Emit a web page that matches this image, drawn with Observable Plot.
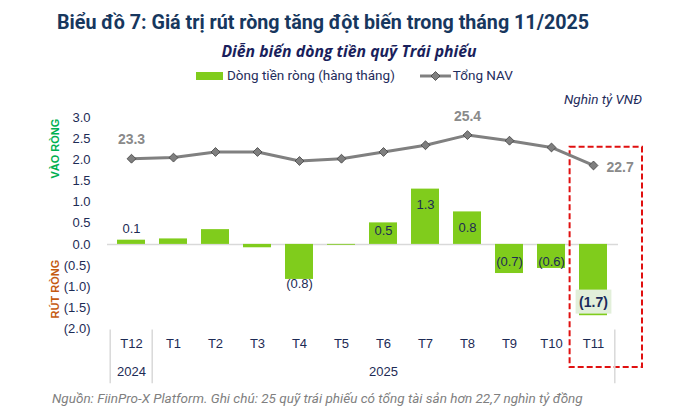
<!DOCTYPE html>
<html>
<head>
<meta charset="utf-8">
<script src="https://cdn.jsdelivr.net/npm/d3@7"></script>
<script src="https://cdn.jsdelivr.net/npm/@observablehq/plot@0.6"></script>
<style>
  body { margin: 0; background: #fff; }
  #wrap { position: relative; width: 696px; height: 412px; overflow: hidden; font-family: Roboto, "Liberation Sans", sans-serif; background:#fff; }
  .abs { position: absolute; white-space: nowrap; line-height: 1; }
  #title { left: 57px; top: 13px; font-size: 19.7px; font-weight: 700; color: #17375e; }
  #subtitle { left: 0; width: 698px; text-align: center; top: 44px; font-family: "Open Sans", Roboto, sans-serif; font-size: 15.8px; font-weight: 700; font-style: italic; color: #1a1f5c; }
  #legend { top: 69px; left: 196px; font-size: 13.5px; color: #1f2d5c; display: flex; align-items: center; }
  #legend .sw { display: inline-block; width: 27px; height: 8px; background: #80cc1c; margin-right: 4px; }
  #unit { right: 54px; top: 93px; font-size: 13.5px; font-style: italic; color: #1f2d5c; }
  #chart { position: absolute; left: 0; top: 100px; }
  #footer { left: 52px; top: 392px; font-size: 13.5px; font-style: italic; color: #7f7f7f; }
</style>
</head>
<body>
<div id="wrap">
  <div id="title" class="abs">Biểu đồ 7: Giá trị rút ròng tăng đột biến trong tháng 11/2025</div>
  <div id="subtitle" class="abs">Diễn biến dòng tiền quỹ Trái phiếu</div>
  <div id="legend" class="abs">
    <span class="sw"></span><span>Dòng tiền ròng (hàng tháng)</span>
    <svg width="31" height="12" style="margin-left:25px;margin-right:2px"><line x1="0" y1="6" x2="31" y2="6" stroke="#808080" stroke-width="3"/><path d="M15.5,1.5 L20,6 L15.5,10.5 L11,6 Z" fill="#7f7f7f" stroke="#404040" stroke-width="0.8"/></svg><span>Tổng NAV</span>
  </div>
  <div id="unit" class="abs">Nghìn tỷ VNĐ</div>
  <div id="chart"></div>
  <div id="footer" class="abs">Nguồn: FiinPro-X Platform. Ghi chú: 25 quỹ trái phiếu có tổng tài sản hơn 22,7 nghìn tỷ đồng</div>
</div>
<script>
// ---- data ----
const months = ["T12","T1","T2","T3","T4","T5","T6","T7","T8","T9","T10","T11"];
const netFlows = [0.10, 0.13, 0.35, -0.08, -0.83, -0.02, 0.51, 1.31, 0.77, -0.69, -0.57, -1.69];
const totalNAV = [23.3, 23.4, 23.9, 23.9, 23.1, 23.3, 23.9, 24.5, 25.4, 24.9, 24.3, 22.7];
const yTicks = [-2, -1.5, -1, -0.5, 0, 0.5, 1, 1.5, 2, 2.5, 3];
const outsideLabelMonths = ["T12", "T4"];
const insideLabelMonths = ["T6", "T7", "T8", "T9", "T10"];
const highlightMonth = "T11";
const navLabelAbove = ["T12", "T8"];
const navLabelRight = ["T11"];
const yearLabels = ["2024", "2025"];
const yearAnchors = ["T12", "T6"];
const separatorsBefore = ["T12", "T1"];
const separatorsAfter = ["T11"];
const sideTitles = ["VÀO RÒNG", "RÚT RÒNG"];

// ---- layout ----
const W = 696, H = 286, ML = 107, MR = 78, MT = 17.3, MB = 57.7;
const yDomain = [-2, 3];
const pxPerUnit = (H - MT - MB) / (yDomain[1] - yDomain[0]);
const step = (W - ML - MR) / months.length;
const navy = "#1d2b55";
const fmt = v => v < 0 ? `(${Math.abs(v).toFixed(1)})` : v.toFixed(1);

// NAV plotted against a hidden secondary scale mapped onto the primary axis
const navToY = d3.scaleLinear().domain([23.3, 25.4]).range([2.03, 2.59]);

const table = months.map((m, i) => ({m, flow: netFlows[i], nav: totalNAV[i], navY: navToY(totalNAV[i])}));
const byMonth = new Map(table.map(d => [d.m, d]));
const pick = list => list.map(m => byMonth.get(m));

const insideY = d => {
  const h = Math.abs(d.flow) * pxPerUnit;
  const off = d.flow > 0 ? Math.min(16, h - 14) : Math.min(12, h - 17);
  return d.flow - Math.sign(d.flow) * off / pxPerUnit;
};
const outsideY = d => d.flow > 0 ? d.flow + 11 / pxPerUnit : d.flow - 4.5 / pxPerUnit;

const plot = Plot.plot({
  width: W, height: H,
  marginLeft: ML, marginRight: MR, marginTop: MT, marginBottom: MB,
  style: {fontFamily: '"Liberation Sans", Arial, sans-serif', background: "transparent", overflow: "visible"},
  x: {domain: months, paddingInner: 0.33, paddingOuter: 0.165, axis: null},
  y: {domain: yDomain},
  marks: [
    Plot.axisY({ticks: yTicks, tickFormat: fmt, tickSize: 0, tickPadding: 17, fontSize: 13, color: navy, label: null}),
    Plot.ruleY([0], {stroke: "#d9d9d9", strokeWidth: 1.5}),
    Plot.barY(table, {x: "m", y: "flow", fill: "#80cc1c"}),
    // highlight box for T11
    Plot.barY([highlightMonth], {x: d => d, y1: 2.30, y2: -2.92, fill: "none", stroke: "#e01010", strokeWidth: 2, strokeDasharray: "6,3", insetLeft: -9.4, insetRight: -35}),
    Plot.line(table, {x: "m", y: "navY", stroke: "#808080", strokeWidth: 3}),
    Plot.dot(table, {x: "m", y: "navY", symbol: "diamond2", r: 4, fill: "#7f7f7f", stroke: "#404040", strokeWidth: 0.8}),
    Plot.text(pick(navLabelAbove), {x: "m", y: "navY", text: d => d.nav.toFixed(1), dy: -19, fontSize: 14, fontWeight: "bold", fill: "#8a8a8a"}),
    Plot.text(pick(navLabelRight), {x: "m", y: "navY", text: d => d.nav.toFixed(1), dx: 13, dy: 2, textAnchor: "start", fontSize: 14, fontWeight: "bold", fill: "#8a8a8a"}),
    Plot.text(pick(outsideLabelMonths), {x: "m", y: outsideY, text: d => fmt(d.flow), fontSize: 13, fill: navy}),
    Plot.text(pick(insideLabelMonths), {x: "m", y: insideY, text: d => fmt(d.flow), fontSize: 13, fill: navy}),
    Plot.text(pick([highlightMonth]), {x: "m", y: d => d.flow + 13.6 / pxPerUnit, text: d => fmt(d.flow), fontSize: 14, fontWeight: "bold", fill: "#1a2a5a", className: "hl-label"}),
    // category axis
    Plot.text(months, {x: d => d, frameAnchor: "bottom", dy: 19.5, fontSize: 13, fill: navy}),
    Plot.text(yearLabels, {x: (d, i) => yearAnchors[i], frameAnchor: "bottom", dy: 47.5, fontSize: 13, fill: navy}),
    Plot.ruleX(separatorsBefore, {x: d => d, dx: -step / 2, y1: -2.03, y2: -3.3, stroke: "#d9d9d9", strokeWidth: 1.5}),
    Plot.ruleX(separatorsAfter, {x: d => d, dx: step / 2, y1: -2.03, y2: -3.3, stroke: "#d9d9d9", strokeWidth: 1.5}),
    // axis side titles
    Plot.text(sideTitles, {frameAnchor: "left", y: (d, i) => i === 0 ? 2.27 : -1.06, dx: -52, rotate: -90, textAnchor: "middle", fontSize: 11, fontWeight: "bold", fill: (d, i) => i === 0 ? "#00b050" : "#c55a11"})
  ]
});
document.getElementById("chart").appendChild(plot);

// light-green background behind the highlighted label
document.querySelectorAll(".hl-label text").forEach(t => {
  const b = t.getBBox();
  const r = document.createElementNS("http://www.w3.org/2000/svg", "rect");
  r.setAttribute("x", b.x - 3.5); r.setAttribute("y", b.y - 4);
  r.setAttribute("width", b.width + 7); r.setAttribute("height", b.height + 8);
  r.setAttribute("fill", "#e2efda");
  const tr = t.getAttribute("transform");
  if (tr) r.setAttribute("transform", tr);
  t.parentNode.insertBefore(r, t);
});
</script>
</body>
</html>
